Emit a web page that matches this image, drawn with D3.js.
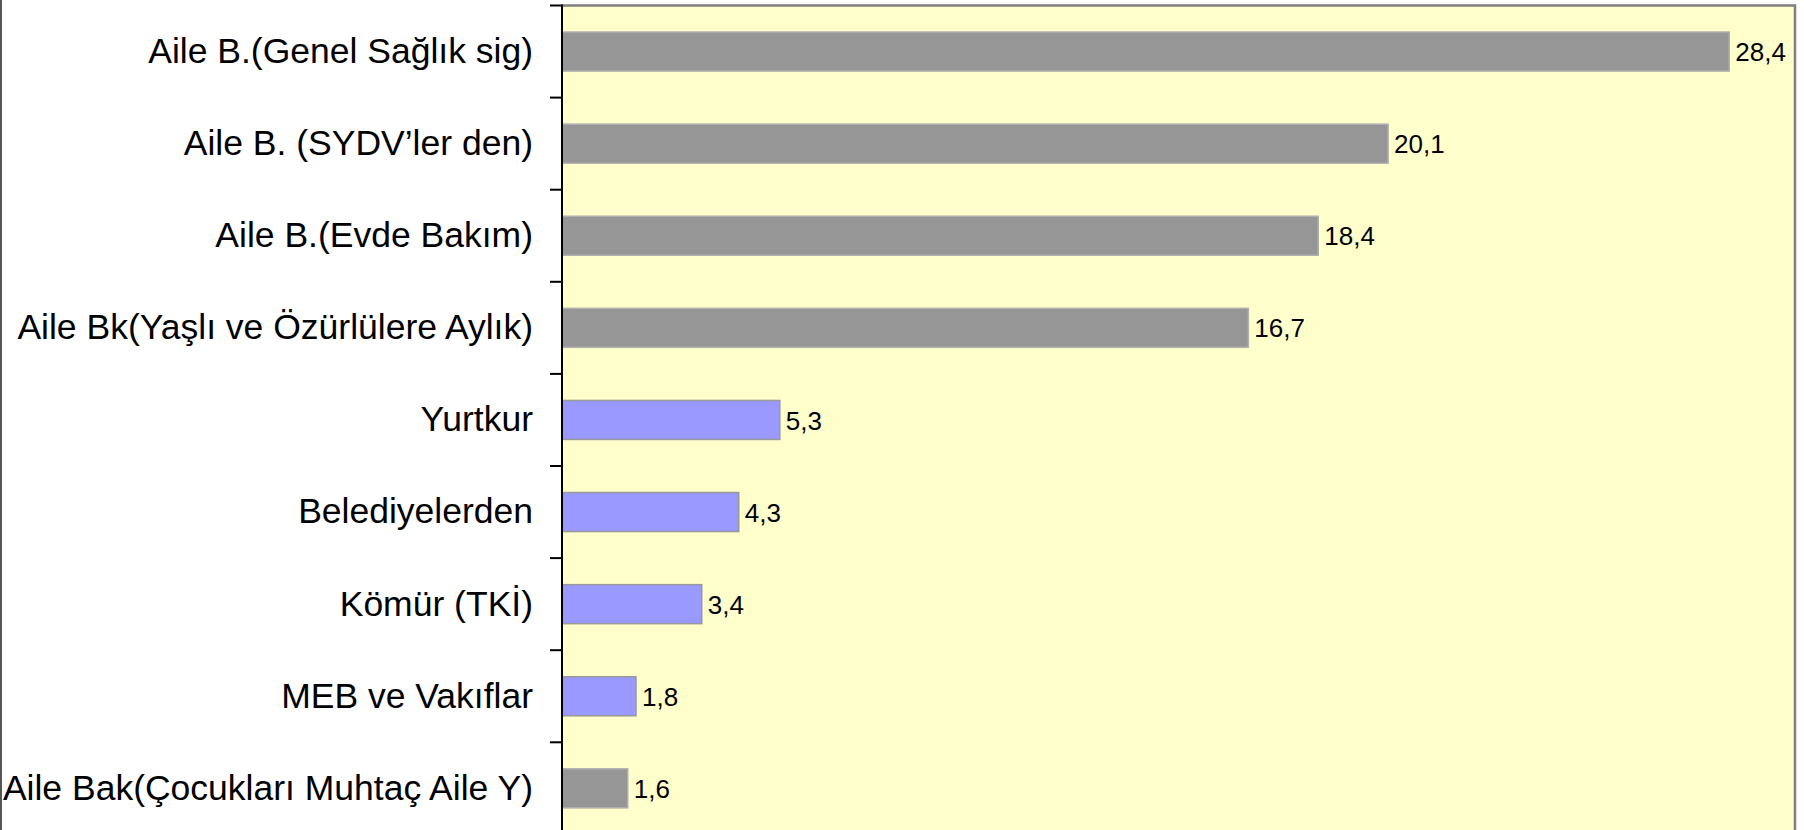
<!DOCTYPE html>
<html>
<head>
<meta charset="utf-8">
<script src="https://cdn.jsdelivr.net/npm/d3@7"></script>
<style>
  html, body { margin: 0; padding: 0; background: #fff; }
  svg { display: block; font-family: "Liberation Sans", Arial, sans-serif; }
</style>
</head>
<body>
<svg id="chart"></svg>
<script>
// DATA
const categories = [
  "Aile B.(Genel Sağlık sig)",
  "Aile B. (SYDV’ler den)",
  "Aile B.(Evde Bakım)",
  "Aile Bk(Yaşlı ve Özürlülere Aylık)",
  "Yurtkur",
  "Belediyelerden",
  "Kömür (TKİ)",
  "MEB ve Vakıflar",
  "Aile Bak(Çocukları Muhtaç Aile Y)"
];
const values = [28.4, 20.1, 18.4, 16.7, 5.3, 4.3, 3.4, 1.8, 1.6];
const groups = ["aile", "aile", "aile", "aile", "diger", "diger", "diger", "diger", "aile"];
const xMax = 30;

const width = 1804;
const height = 830;

const svg = d3.select("#chart").attr("width", width).attr("height", height);

const plot = { left: 562, right: 1795, top: 5.5, bottom: 5.5 + 9 * 92.1 };

// SCALES
const x = d3.scaleLinear().domain([0, xMax]).range([plot.left, plot.right]);
const y = d3.scaleBand()
  .domain(categories)
  .range([plot.top, plot.bottom])
  .paddingInner(0.576)
  .paddingOuter(0.288);
const color = d3.scaleOrdinal().domain(["aile", "diger"]).range(["#969696", "#9999ff"]);
const stroke = d3.scaleOrdinal().domain(["aile", "diger"]).range(["#b0b0b0", "#999999"]);

// BACKGROUND
svg.append("rect")
  .attr("x", plot.left).attr("y", plot.top)
  .attr("width", plot.right - plot.left)
  .attr("height", plot.bottom - plot.top + 20)
  .attr("fill", "#ffffcc");

// border top + right
svg.append("path")
  .attr("d", `M${plot.left},${plot.top} H${plot.right} V${height + 10}`)
  .attr("fill", "none")
  .attr("stroke", "#808080")
  .attr("stroke-width", 2.5);

// left frame line
svg.append("line")
  .attr("x1", 1).attr("x2", 1).attr("y1", 0).attr("y2", height)
  .attr("stroke", "#555").attr("stroke-width", 2);

// BARS
const data = categories.map((c, i) => ({ cat: c, value: values[i], group: groups[i] }));

svg.append("g")
  .selectAll("rect")
  .data(data)
  .enter()
  .append("rect")
  .attr("x", x(0))
  .attr("y", (d) => y(d.cat))
  .attr("width", (d) => x(d.value) - x(0))
  .attr("height", y.bandwidth())
  .attr("fill", (d) => color(d.group))
  .attr("stroke", (d) => stroke(d.group))
  .attr("stroke-width", 1.5);

// VALUE LABELS
svg.append("g")
  .selectAll("text")
  .data(data)
  .enter()
  .append("text")
  .attr("x", (d) => x(d.value) + 6)
  .attr("y", (d) => y(d.cat) + y.bandwidth() / 2)
  .attr("dy", "0.37em")
  .attr("font-size", 26)
  .attr("fill", "#000")
  .text((d) => d3.format(".1f")(d.value).replace(".", ","));

// Y AXIS (labels)
const yAxis = svg.append("g")
  .attr("transform", `translate(${plot.left},0)`)
  .call(d3.axisLeft(y).tickSize(0).tickPadding(29));
yAxis.select(".domain").remove();
yAxis.selectAll("text")
  .attr("font-size", 35.5)
  .attr("font-family", "Liberation Sans, Arial, sans-serif")
  .attr("fill", "#000");

// tick marks on category boundaries
const half = (y.step() * y.paddingInner()) / 2;
const bounds = categories.map((c) => y(c) - half);
svg.append("g")
  .selectAll("line")
  .data(bounds)
  .enter()
  .append("line")
  .attr("x1", plot.left - 12)
  .attr("x2", plot.left)
  .attr("y1", (d) => d)
  .attr("y2", (d) => d)
  .attr("stroke", "#000")
  .attr("stroke-width", 2);

// axis line
svg.append("line")
  .attr("x1", plot.left).attr("x2", plot.left)
  .attr("y1", plot.top - 1).attr("y2", height + 10)
  .attr("stroke", "#000").attr("stroke-width", 2);
</script>
</body>
</html>
